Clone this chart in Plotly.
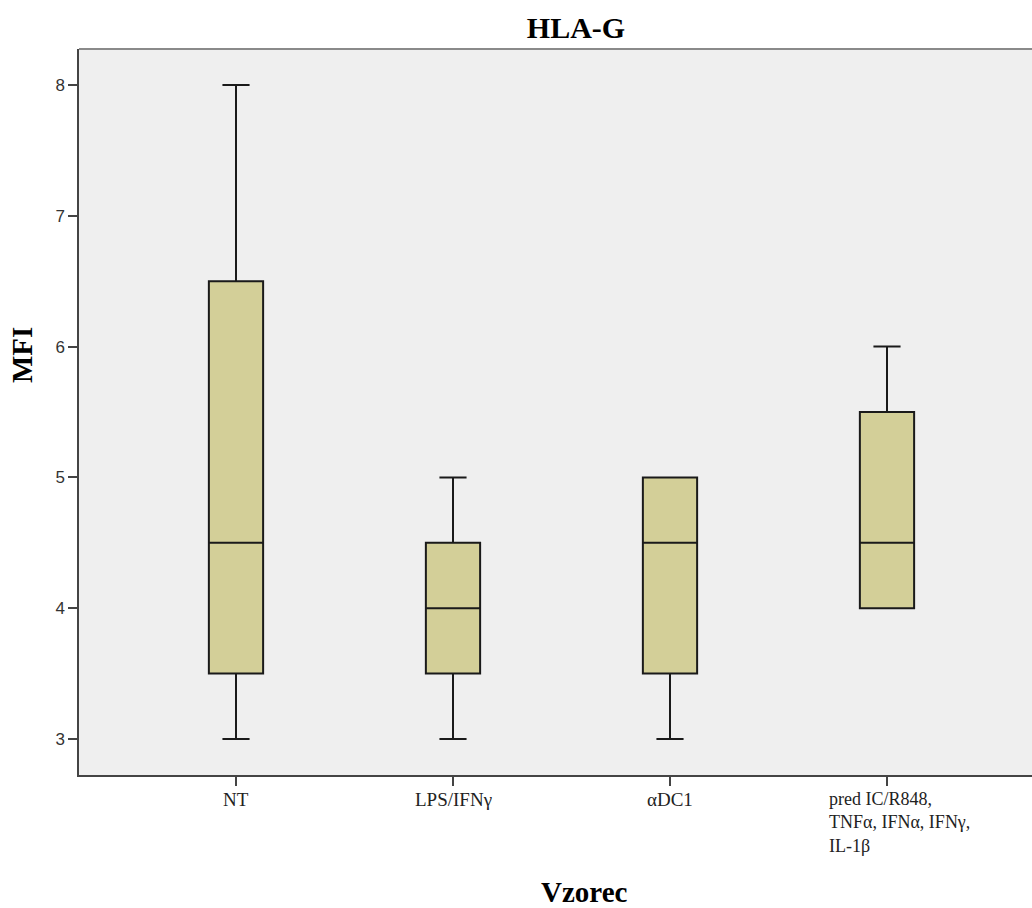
import plotly.graph_objects as go

categories = ["NT", "LPS/IFNγ", "αDC1", "pred IC/R848,<br>TNFα, IFNα, IFNγ,<br>IL-1β"]
lower_whisker = [3.0, 3.0, 3.0, 4.0]
q1 = [3.5, 3.5, 3.5, 4.0]
median = [4.5, 4.0, 4.5, 4.5]
q3 = [6.5, 4.5, 5.0, 5.5]
upper_whisker = [8.0, 5.0, 5.0, 6.0]
y_ticks = [3, 4, 5, 6, 7, 8]

W, H = 1032, 908
L, T, B = 79, 49, 133
plot_w = W - L
plot_h = H - T - B

fig = go.Figure()
fig.add_trace(go.Box(
    x=categories,
    q1=q1, median=median, q3=q3,
    lowerfence=lower_whisker, upperfence=upper_whisker,
    fillcolor="#D3CF98",
    line=dict(color="#1a1a1a", width=2),
    width=0.25,
    whiskerwidth=0.5,
    boxpoints=False,
    hoverinfo="skip",
    showlegend=False,
))

serif = "Liberation Serif, Times New Roman, serif"

annotations = []
# x category labels
for i, c in enumerate(categories):
    if i < 3:
        annotations.append(dict(x=c, y=0, xref="x", yref="paper", text=c,
                                showarrow=False, xanchor="center", yanchor="top",
                                yshift=-12, font=dict(family=serif, size=19, color="#222")))
    else:
        annotations.append(dict(x=c, y=0, xref="x", yref="paper", text=c,
                                showarrow=False, xanchor="left", yanchor="top", align="left",
                                xshift=-60, yshift=-12, font=dict(family=serif, size=18, color="#222")))
# y title
annotations.append(dict(x=(22 - L) / plot_w, y=(H - B - 355) / plot_h, xref="paper", yref="paper",
                        text="<b>MFI</b>", showarrow=False, textangle=-90,
                        xanchor="center", yanchor="middle",
                        font=dict(family=serif, size=29, color="black")))
# x title
annotations.append(dict(x=(584 - L) / plot_w, y=(H - B - 892) / plot_h, xref="paper", yref="paper",
                        text="<b>Vzorec</b>", showarrow=False,
                        xanchor="center", yanchor="middle",
                        font=dict(family=serif, size=29, color="black")))

fig.update_layout(
    width=W, height=H,
    margin=dict(l=L, r=0, t=T, b=B, pad=0),
    paper_bgcolor="white",
    plot_bgcolor="#EFEFEF",
    title=dict(text="<b>HLA-G</b>", x=576 / W, xanchor="center", y=1 - 27 / H, yanchor="middle",
               yref="container", font=dict(family=serif, size=30, color="black")),
    annotations=annotations,
    shapes=[dict(type="line", xref="paper", yref="paper", x0=0, x1=1, y0=1, y1=1,
                 line=dict(color="#8a8a8a", width=2))],
)
fig.update_xaxes(
    type="category",
    range=[-157 / 217, 3 + (W - 887) / 217],
    showgrid=False, zeroline=False,
    showline=True, linecolor="#444", linewidth=1.5,
    ticks="outside", ticklen=9, tickcolor="#444", tickwidth=1.5,
    showticklabels=False,
)
fig.update_yaxes(
    range=[3 - 36 / 130.8, 8 + 36 / 130.8],
    tickvals=y_ticks, ticktext=[str(v) for v in y_ticks],
    showgrid=False, zeroline=False,
    showline=True, linecolor="#444", linewidth=1.5,
    ticks="outside", ticklen=9, tickcolor="#444", tickwidth=1.5,
    tickfont=dict(family="Liberation Sans, Arial, sans-serif", size=17, color="#333"),
)

fig.write_html("out.html")
